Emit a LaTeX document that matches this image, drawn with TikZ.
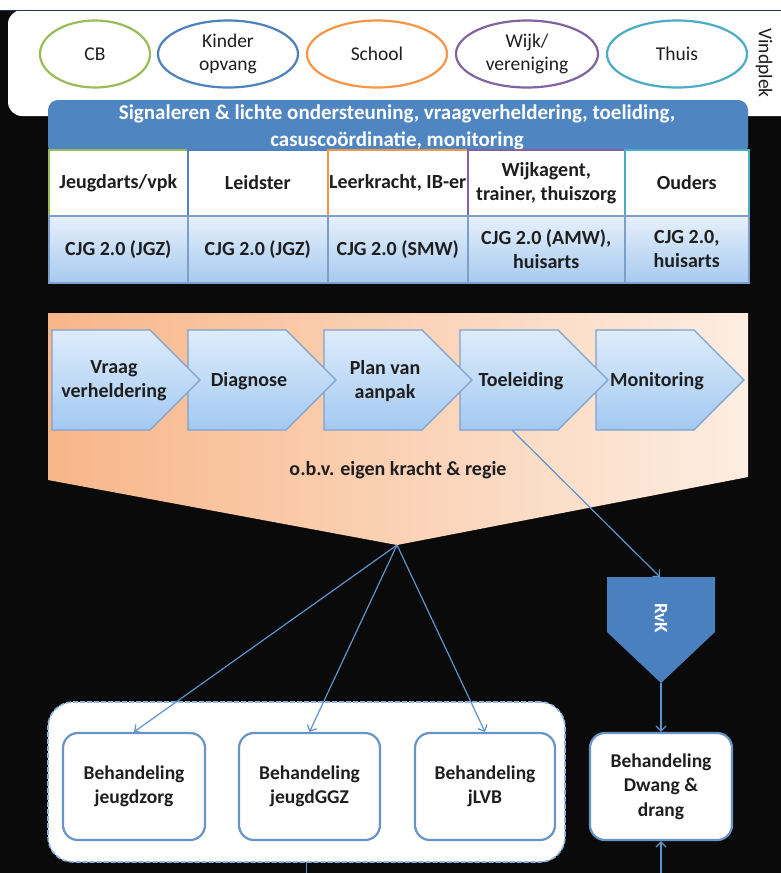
\documentclass[tikz,border=0pt]{standalone}
\usepackage{fontspec}
\setmainfont{Carlito}
\usetikzlibrary{arrows.meta,shapes.geometric}

\definecolor{slidebg}{HTML}{0A0A0A}
\definecolor{cgreen}{HTML}{9BBB59}
\definecolor{cblue}{HTML}{4F81BD}
\definecolor{corange}{HTML}{F79646}
\definecolor{cpurple}{HTML}{8064A2}
\definecolor{cteal}{HTML}{4BACC6}
\definecolor{navyline}{HTML}{1F3550}
\definecolor{bannerblue}{HTML}{4F86C2}
\definecolor{cellTop}{HTML}{E6F0FB}
\definecolor{cellBot}{HTML}{A8CAF0}
\definecolor{cellLine}{HTML}{7E9FC9}
\definecolor{chevTop}{HTML}{DEECFA}
\definecolor{chevBot}{HTML}{A3C9F2}
\definecolor{chevLine}{HTML}{7DA2CE}
\definecolor{orangeL}{HTML}{F8B689}
\definecolor{orangeR}{HTML}{FDEDE1}
\definecolor{linkblue}{HTML}{5E93CC}
\definecolor{txt}{HTML}{1E1E1E}
\definecolor{rvkfill}{HTML}{4B80BE}
\definecolor{dashblue}{HTML}{8DB4E2}

\begin{document}
\begin{tikzpicture}[x=1pt,y=-1pt,
  txtreg/.style={font=\fontsize{19.5}{23}\selectfont, text=txt},
  txtbold/.style={font=\fontsize{20}{24}\selectfont\bfseries, text=txt},
  place/.style={ellipse, line width=2.2pt, fill=white, inner sep=0pt,
    minimum width=140, minimum height=67, align=center, txtreg},
  hcell/.style={rectangle, line width=1.5pt, fill=white, inner sep=0pt,
    minimum height=66, align=center, anchor=north west, txtbold},
  bcell/.style={rectangle, draw=cellLine, line width=1.5pt, inner sep=0pt,
    top color=cellTop, bottom color=cellBot,
    minimum height=67, align=center, anchor=north west, txtbold},
  chevbox/.style={draw=chevLine, line width=1.2pt, top color=chevTop, bottom color=chevBot},
  chevtext/.style={align=center, txtbold},
  behbox/.style={rectangle, rounded corners=15, draw=cblue!85!white, line width=2.2pt,
    fill=white, minimum height=107, align=center,
    font=\fontsize{19.5}{24.5}\selectfont\bfseries, text=txt},
  link/.style={draw=linkblue, line width=1.2pt,
    -{Straight Barb[length=5pt,width=10pt,line width=1.2pt]}},
  linkline/.style={draw=linkblue, line width=1.2pt}
]
\useasboundingbox (0,0) rectangle (781,873);

% background: thin white strip on top, dark slide below
\fill[white] (0,0) -- (781,0) -- (781,10) -- (0,10) -- cycle;
\fill[slidebg] (0,10) -- (781,10) -- (781,873) -- (0,873) -- cycle;

% panel with the places where signals are picked up
\fill[white, rounded corners=14] (781,10) -- (8,10) -- (8,116) -- (781,116);
\draw[navyline, line width=1pt] (0,10) -- (781,10);

\node[place, draw=cgreen, minimum width=110] (cb) at (95,54) {CB};
\node[place, draw=cblue] (kdv) at (228,54) {Kinder\\opvang};
\node[place, draw=corange] (school) at (377,54) {School};
\node[place, draw=cpurple, minimum width=142] (wijk) at (527,54) {Wijk/\\vereniging};
\node[place, draw=cteal] (thuis) at (677,54) {Thuis};
\node[rotate=-90, txtreg] (vind) at (764,63) {Vindplek};

% banner
\fill[bannerblue, rounded corners=10] (48,100) rectangle (748,156);
\node[align=center, text=white, font=\fontsize{21}{27}\selectfont\bfseries] (banner) at (397,127)
  {Signaleren \& lichte ondersteuning, vraagverheldering, toeliding,\\casuscoördinatie, monitoring};

% table: who signals, and who supports
\node[hcell, draw=cgreen, minimum width=139] (h1) at (48,149) {Jeugdarts/vpk};
\node[hcell, draw=cblue, minimum width=140] (h2) at (187,149) {Leidster};
\node[hcell, draw=corange, minimum width=140] (h3) at (327,149) {Leerkracht, IB-er};
\node[hcell, draw=cpurple, minimum width=157] (h4) at (467,149) {Wijkagent,\\trainer, thuiszorg};
\node[hcell, draw=cteal, minimum width=124] (h5) at (624,149) {Ouders};

\node[bcell, minimum width=139] (s1) at (48,215) {CJG 2.0 (JGZ)};
\node[bcell, minimum width=140] (s2) at (187,215) {CJG 2.0 (JGZ)};
\node[bcell, minimum width=140] (s3) at (327,215) {CJG 2.0 (SMW)};
\node[bcell, minimum width=157] (s4) at (467,215) {CJG 2.0 (AMW),\\huisarts};
\node[bcell, minimum width=124] (s5) at (624,215) {CJG 2.0,\\huisarts};

% process block
\path[left color=orangeL, right color=orangeR]
  (48,313) -- (748,313) -- (748,477) -- (397,545) -- (48,480) -- cycle;
\coordinate (ptip) at (397,545);

% chevrons, drawn from the last one so each tip lies on top of the next step
\foreach \i in {4,3,2,1,0}{
  \path[chevbox] (52+136*\i,330) -- ++(98,0) -- ++(50,50) -- ++(-50,50) -- ++(-98,0) -- cycle;
}
\node[chevtext] (c1) at (114,381) {Vraag\\verheldering};
\node[chevtext] (c2) at (249,381) {Diagnose};
\node[chevtext] (c3) at (385,381) {Plan van\\aanpak};
\node[chevtext] (c4) at (521,381) {Toeleiding};
\node[chevtext] (c5) at (657,381) {Monitoring};
\coordinate (toelbot) at (512,430);

\node[txtbold] (regie) at (398,470) {o.b.v. eigen kracht \& regie};

% RvK
\fill[rvkfill] (607,577) -- (715,577) -- (715,632) -- (661,683) -- (607,632) -- cycle;
\coordinate (rvktop) at (660,577);
\coordinate (rvkpt) at (661,683);
\node[rotate=-90, text=white, font=\fontsize{19}{22}\selectfont\bfseries] (rvk) at (661,618) {RvK};

% treatment
\node[rectangle, rounded corners=25, draw=dashblue, dash pattern=on 5pt off 2pt,
  line width=1.6pt, fill=white, minimum width=517, minimum height=160] (groep) at (306.5,782) {};
\node[behbox, minimum width=142] (b1) at (134,786.5) {Behandeling\\jeugdzorg};
\node[behbox, minimum width=141] (b2) at (309.5,786.5) {Behandeling\\jeugdGGZ};
\node[behbox, minimum width=140] (b3) at (485,786.5) {Behandeling\\jLVB};
\node[behbox, minimum width=142] (dwang) at (661,786.5) {Behandeling\\Dwang \&\\drang};

\coordinate (grpout) at (306.5,873);
\coordinate (dwangin) at (661,873);

% connectors
\draw[link] (toelbot) -- (rvktop);
\draw[link] (rvkpt) -- (dwang.north);
\draw[link] (ptip) -- (b1.north);
\draw[link] (ptip) -- (b2.north);
\draw[link] (ptip) -- (b3.north);
\draw[link] (dwangin) -- (dwang.south);
\draw[linkline] (groep.south) -- (grpout);
\end{tikzpicture}
\end{document}
